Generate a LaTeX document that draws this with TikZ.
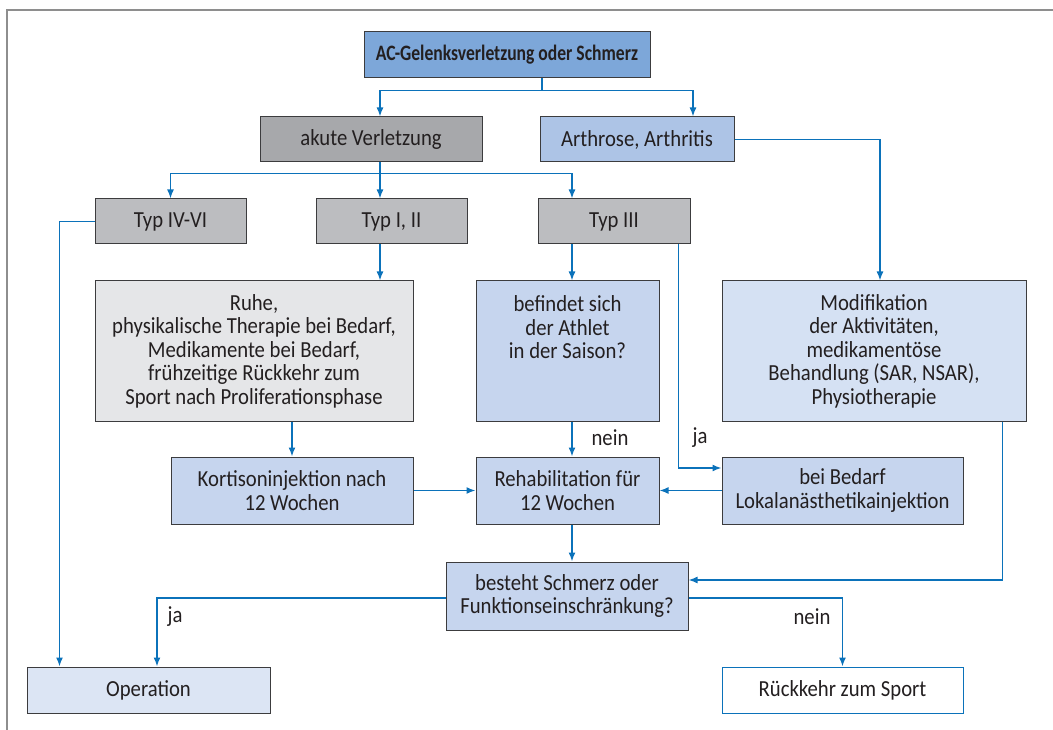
\documentclass[tikz,border=0pt]{standalone}
\usepackage{fontspec}
\setmainfont{Carlito}[FakeStretch=0.9]
\newfontfamily\acheadfont{Carlito}[FakeStretch=0.8]
\usepackage{xcolor}
\usetikzlibrary{arrows.meta,calc,positioning}
\definecolor{acblue}{HTML}{7DA7D9}
\definecolor{acdarkgrey}{HTML}{A7A8AB}
\definecolor{acgrey}{HTML}{BCBDC0}
\definecolor{acpalegrey}{HTML}{E5E6E8}
\definecolor{acmidblue}{HTML}{ADC4E6}
\definecolor{acsoft}{HTML}{C6D5EE}
\definecolor{acpale}{HTML}{D5E1F3}
\definecolor{acpaler}{HTML}{DCE5F4}
\definecolor{acborder}{HTML}{3C3C3E}
\definecolor{acarrow}{HTML}{0B72BA}
\definecolor{acframe}{HTML}{8E8E8E}
\definecolor{actext}{HTML}{231F20}
\tikzset{
  acbox/.style={draw=acborder,line width=1pt,align=center,inner sep=2pt,
    font=\fontsize{23}{23.5}\selectfont,text=actext},
  acroot/.style={acbox,fill=acblue,minimum width=286,minimum height=46,font=\acheadfont\bfseries\fontsize{22}{23.5}\selectfont},
  acinjury/.style={acbox,fill=acdarkgrey,minimum height=45},
  actype/.style={acbox,fill=acgrey,minimum width=151,minimum height=45},
  acplan/.style={acbox,minimum height=140},
  acstep/.style={acbox,fill=acsoft,minimum height=67},
  acend/.style={acbox,minimum width=242,minimum height=46},
  flow/.style={-{Latex[length=9pt,width=7pt]},line width=1.5pt,draw=acarrow},
  answer/.style={font=\fontsize{23}{23.5}\selectfont,text=actext,inner sep=0pt}
}
\begin{document}
\begin{tikzpicture}[x=1pt,y=-1pt]
  \useasboundingbox (0,0) rectangle (1053,730);
  \draw[acframe,line width=1.5pt] (7,730) -- (7,10) -- (1053,10);
  % Kaskade
  \node[acroot] (root) at (507,55) {AC-Gelenksverletzung oder Schmerz};
  \node[acinjury,minimum width=222] (akut) at (371,139.5) {akute Verletzung};
  \node[acbox,fill=acmidblue,minimum width=194,minimum height=45] (arth) at (637,139.5) {Arthrose, Arthritis};
  \node[actype] (typ46) at (170.5,221.5) {Typ IV-VI};
  \node[actype] (typ12) at (391.5,221.5) {Typ I, II};
  \node[actype,minimum width=152] (typ3) at (614,221.5) {Typ III};
  \node[acplan,fill=acpalegrey,minimum width=318] (ruhe) at (254,351)
    {Ruhe,\\physikalische Therapie bei Bedarf,\\Medikamente bei Bedarf,\\fr\"uhzeitige R\"uckkehr zum\\Sport nach Proliferationsphase};
  \node[acplan,fill=acsoft,minimum width=183] (saison) at (567.5,351)
    {befindet sich\\der Athlet\\in der Saison?\\\mbox{}\\\mbox{}};
  \node[acplan,fill=acpale,minimum width=304] (modi) at (874,351)
    {Modifikation\\der Aktivit\"aten,\\medikament\"ose\\Behandlung (SAR, NSAR),\\Physiotherapie};
  \node[acstep,minimum width=242] (kort) at (292,490.5) {Kortisoninjektion nach\\12 Wochen};
  \node[acstep,minimum width=183] (reha) at (567.5,490.5) {Rehabilitation f\"ur\\12 Wochen};
  \node[acstep,minimum width=241] (lokal) at (842.5,490.5) {bei Bedarf\\Lokalan\"asthetikainjektion};
  \node[acstep,minimum width=242,minimum height=68] (frage) at (567,596) {besteht Schmerz oder\\Funktionseinschr\"ankung?};
  \node[acend,fill=acpaler,minimum width=243] (op) at (148.5,690) {Operation};
  \node[acend,fill=white,draw=acarrow,minimum width=241] (sport) at (842.5,690) {R\"uckkehr zum Sport};
  % Verbindungen
  \coordinate (rootbot) at ([xshift=35]root.south);
  \draw[flow] (rootbot) -- ++(0,12) -| ([xshift=9]akut.north);
  \draw[flow] (rootbot) -- ++(0,12) -| ([xshift=56]arth.north);
  \coordinate (akbot) at ([xshift=9]akut.south);
  \coordinate (col3) at ([xshift=-42]typ3.south);
  \draw[flow] (akbot) -- (akbot |- typ12.north);
  \draw[flow] (akbot) -- ++(0,11) -| (typ46.north);
  \draw[flow] (akbot) -- ++(0,11) -| (col3 |- typ3.north);
  \draw[flow] (typ46.west) -| ([xshift=33]op.north west);
  \draw[flow] (akbot |- typ12.south) -- (akbot |- ruhe.north);
  \draw[flow] (col3) -- (col3 |- saison.north);
  \draw[flow] ([xshift=-12]typ3.south east) |- ([yshift=22.5]lokal.west);
  \draw[flow] (arth.east) -| ([xshift=6]modi.north);
  \draw[flow] (kort.north |- ruhe.south) -- (kort.north);
  \draw[flow] (col3 |- saison.south) -- (col3 |- reha.north);
  \draw[flow] (kort.east) -- (kort.east -| reha.west);
  \draw[flow] (lokal.west) -- (lokal.west -| reha.east);
  \draw[flow] (col3 |- reha.south) -- (col3 |- frage.north);
  \draw[flow] ([xshift=-24]modi.south east) |- ([yshift=16]frage.east);
  \draw[flow] ([yshift=-2]frage.west) -| ([xshift=8.5]op.north);
  \draw[flow] ([yshift=-2]frage.east) -| (sport.north);
  % Antworten
  \node[answer] at (610,438) {nein};
  \node[answer] at (700,438) {ja};
  \node[answer] at (175,617) {ja};
  \node[answer] at (812,617) {nein};
\end{tikzpicture}
\end{document}
